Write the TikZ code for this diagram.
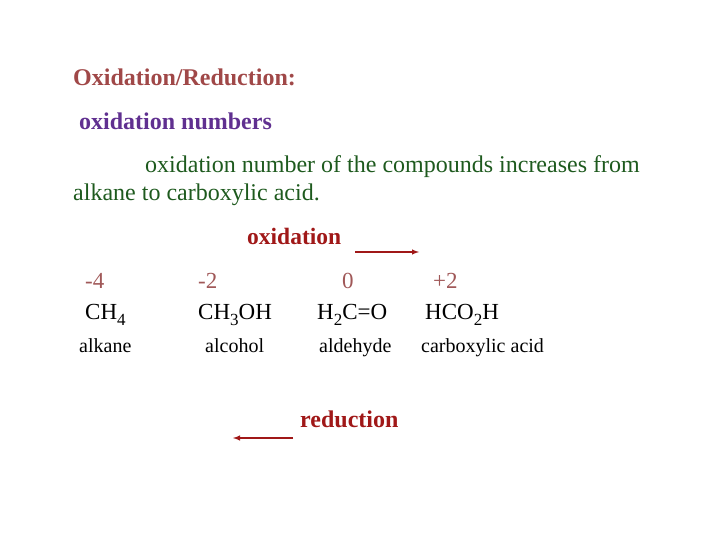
\documentclass[tikz,border=0pt]{standalone}
\usepackage{fontspec}
\setmainfont{Liberation Serif}
\usetikzlibrary{positioning,calc}
\definecolor{oxTitle}{HTML}{A04848}
\definecolor{oxPurple}{HTML}{603090}
\definecolor{oxRed}{HTML}{A01818}
\definecolor{oxNum}{HTML}{A05858}
\definecolor{oxGreen}{HTML}{1E5A1E}
\newcommand{\oxsub}[1]{\raisebox{-0.3em}{\fontsize{17}{20}\selectfont #1}}
\begin{document}
\begin{tikzpicture}[x=1pt,y=-1pt,
  txt/.style={anchor=base west, inner sep=0pt},
  rarrow/.style={draw=oxRed, line width=1.4pt, -latex}]
\useasboundingbox (0,0) rectangle (720,540);

%% header lines
\node[txt, font=\fontsize{24}{28}\selectfont\bfseries, text=oxTitle]
  (title) at (73, 86) {Oxidation/Reduction:};
\node[txt, font=\fontsize{24}{28}\selectfont\bfseries, text=oxPurple]
  (subtitle) at (79, 130) {oxidation numbers};
\node[txt, font=\fontsize{24}{28}\selectfont, text=oxGreen]
  (line1) at (145, 173) {oxidation number of the compounds increases from};
\node[txt, font=\fontsize{24}{28}\selectfont, text=oxGreen]
  (line2) at (73, 201) {alkane to carboxylic acid.};

%% oxidation arrow
\node[txt, font=\fontsize{23.5}{28}\selectfont\bfseries, text=oxRed]
  (oxlab) at (247, 244) {oxidation};
\coordinate (oxA) at (355, 252);
\coordinate (oxB) at (419, 252);
\draw[rarrow] (oxA) -- (oxB);

%% compound columns
\foreach [count=\i] \nx/\num/\fx/\form/\cx/\cls in {%
  85/-4/85/CH\oxsub{4}/79/alkane,%
  198/-2/198/CH\oxsub{3}OH/205/alcohol,%
  342/0/317/H\oxsub{2}C=O/319/aldehyde,%
  433/+2/425/HCO\oxsub{2}H/421/carboxylic acid%
} {
  \node[txt, font=\fontsize{23}{28}\selectfont, text=oxNum]
    (num\i) at (\nx, 288) {\num};
  \node[txt, font=\fontsize{23}{28}\selectfont]
    (form\i) at (\fx, 319) {\form};
  \node[txt, font=\fontsize{20}{24}\selectfont]
    (cls\i) at (\cx, 352) {\cls};
}

%% reduction arrow
\node[txt, font=\fontsize{24}{28}\selectfont\bfseries, text=oxRed]
  (redlab) at (300, 427) {reduction};
\coordinate (redA) at (293, 438);
\coordinate (redB) at (233, 438);
\draw[rarrow] (redA) -- (redB);

\end{tikzpicture}
\end{document}
